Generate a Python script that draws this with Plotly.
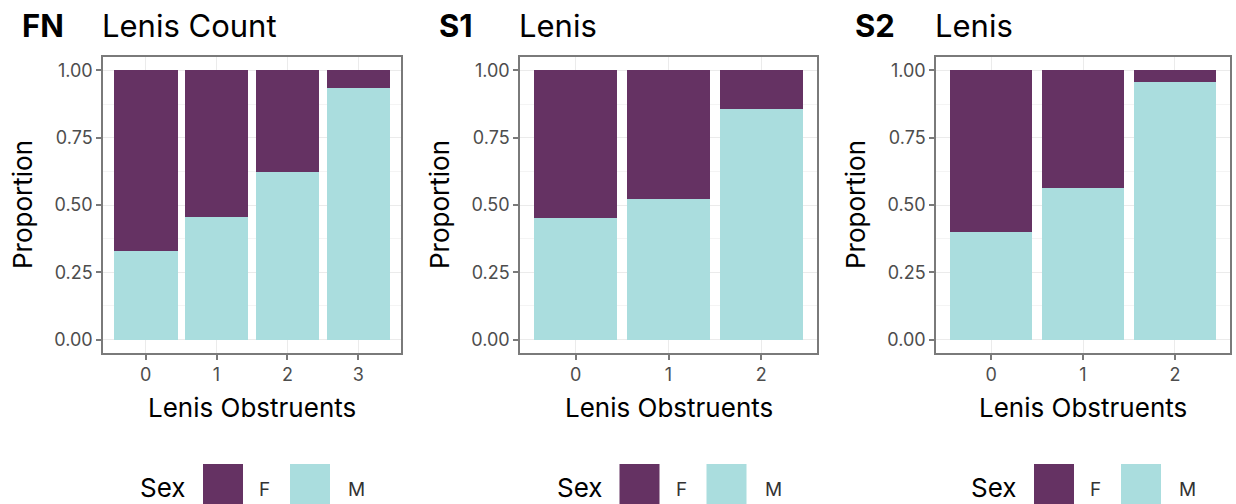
import plotly.graph_objects as go

# --- data -------------------------------------------------------------
panel_tags = ["FN", "S1", "S2"]
panel_titles = ["Lenis Count", "Lenis", "Lenis"]
lenis_levels = [[0, 1, 2, 3], [0, 1, 2], [0, 1, 2]]
prop_male = [
    [0.330, 0.457, 0.621, 0.934],
    [0.451, 0.521, 0.858],
    [0.401, 0.564, 0.957],
]
prop_female = [
    [0.670, 0.543, 0.379, 0.066],
    [0.549, 0.479, 0.142],
    [0.599, 0.436, 0.043],
]
sex_levels = ["F", "M"]
sex_colors = {"F": "#653263", "M": "#AADDDE"}
y_ticks = [0.0, 0.25, 0.5, 0.75, 1.0]
y_ticktext = ["0.00", "0.25", "0.50", "0.75", "1.00"]

# --- page geometry (pixels) -------------------------------------------
W, H = 1236, 504
FONT = "Inter"
panel_px = [(103, 401), (520, 817), (936, 1230)]
panel_top, panel_bottom = 57, 353
frame_color = "#7A7A7A"


def fx(px):
    return px / W


def fy(py):
    return 1 - py / H


fig = go.Figure()
annotations = []
shapes = []

for i in range(3):
    ax = "" if i == 0 else str(i + 1)
    xref, yref = "x" + ax, "y" + ax
    # stacked proportions: M at the bottom, F on top
    fig.add_trace(go.Bar(
        x=lenis_levels[i], y=prop_male[i], width=0.9,
        marker=dict(color=sex_colors["M"], line=dict(width=0)),
        name="M", showlegend=False, xaxis=xref, yaxis=yref,
    ))
    fig.add_trace(go.Bar(
        x=lenis_levels[i], y=prop_female[i], width=0.9,
        marker=dict(color=sex_colors["F"], line=dict(width=0)),
        name="F", showlegend=False, xaxis=xref, yaxis=yref,
    ))

    x0, x1 = panel_px[i]
    n = len(lenis_levels[i])
    common = dict(
        showline=True, linecolor=frame_color, linewidth=1.5, mirror=True,
        ticks="outside", ticklen=5, tickwidth=1.5, tickcolor=frame_color,
        tickfont=dict(family=FONT, size=18, color="#4D4D4D"),
        gridcolor="#EBEBEB", gridwidth=1, zeroline=False,
    )
    fig.layout["xaxis" + ax] = dict(
        common, domain=[fx(x0), fx(x1)], range=[-0.6, n - 0.4],
        tickvals=lenis_levels[i], ticktext=[str(v) for v in lenis_levels[i]],
        anchor=yref, fixedrange=True,
    )
    fig.layout["yaxis" + ax] = dict(
        common, domain=[fy(panel_bottom), fy(panel_top)], range=[-0.05, 1.05],
        tickvals=y_ticks, ticktext=y_ticktext, anchor=xref,
        minor=dict(tickvals=[0.125, 0.375, 0.625, 0.875], showgrid=True,
                   gridcolor="#F4F4F4", gridwidth=0.6, ticks=""),
    )

    cx = (x0 + x1) / 2
    # axis titles
    annotations.append(dict(
        text="Lenis Obstruents", x=fx(cx), y=fy(407), xref="paper", yref="paper",
        showarrow=False, xanchor="center", yanchor="middle",
        font=dict(family=FONT, size=26, color="#000000"),
    ))
    annotations.append(dict(
        text="Proportion", x=fx(x0 - 81), y=fy(205), xref="paper", yref="paper",
        showarrow=False, xanchor="center", yanchor="middle", textangle=-90,
        font=dict(family=FONT, size=26, color="#000000"),
    ))
    # tag and title
    annotations.append(dict(
        text="<b>%s</b>" % panel_tags[i], x=fx(x0 - 83), y=fy(25),
        xref="paper", yref="paper", showarrow=False,
        xanchor="left", yanchor="middle",
        font=dict(family=FONT, size=31, color="#000000"),
    ))
    annotations.append(dict(
        text=panel_titles[i], x=fx(x0 - 3), y=fy(25), xref="paper", yref="paper",
        showarrow=False, xanchor="left", yanchor="middle",
        font=dict(family=FONT, size=31, color="#000000"),
    ))

    # legend below each panel
    annotations.append(dict(
        text="Sex", x=fx(cx - 114), y=fy(487), xref="paper", yref="paper",
        showarrow=False, xanchor="left", yanchor="middle",
        font=dict(family=FONT, size=26, color="#000000"),
    ))
    key_left = [cx - 49, cx + 38]
    label_left = [cx + 5, cx + 94]
    for k, s in enumerate(sex_levels):
        shapes.append(dict(
            type="rect", xref="paper", yref="paper",
            x0=fx(key_left[k]), x1=fx(key_left[k] + 40),
            y0=fy(512), y1=fy(464),
            fillcolor=sex_colors[s], line=dict(width=0), layer="above",
        ))
        annotations.append(dict(
            text=s, x=fx(label_left[k]), y=fy(489), xref="paper", yref="paper",
            showarrow=False, xanchor="left", yanchor="middle",
            font=dict(family=FONT, size=19, color="#333333"),
        ))

fig.update_layout(
    width=W, height=H, barmode="stack", bargap=0,
    margin=dict(l=0, r=0, t=0, b=0),
    paper_bgcolor="#FFFFFF", plot_bgcolor="#FFFFFF",
    annotations=annotations, shapes=shapes, showlegend=False,
)

fig.write_html("out.html", config={"displayModeBar": False})
